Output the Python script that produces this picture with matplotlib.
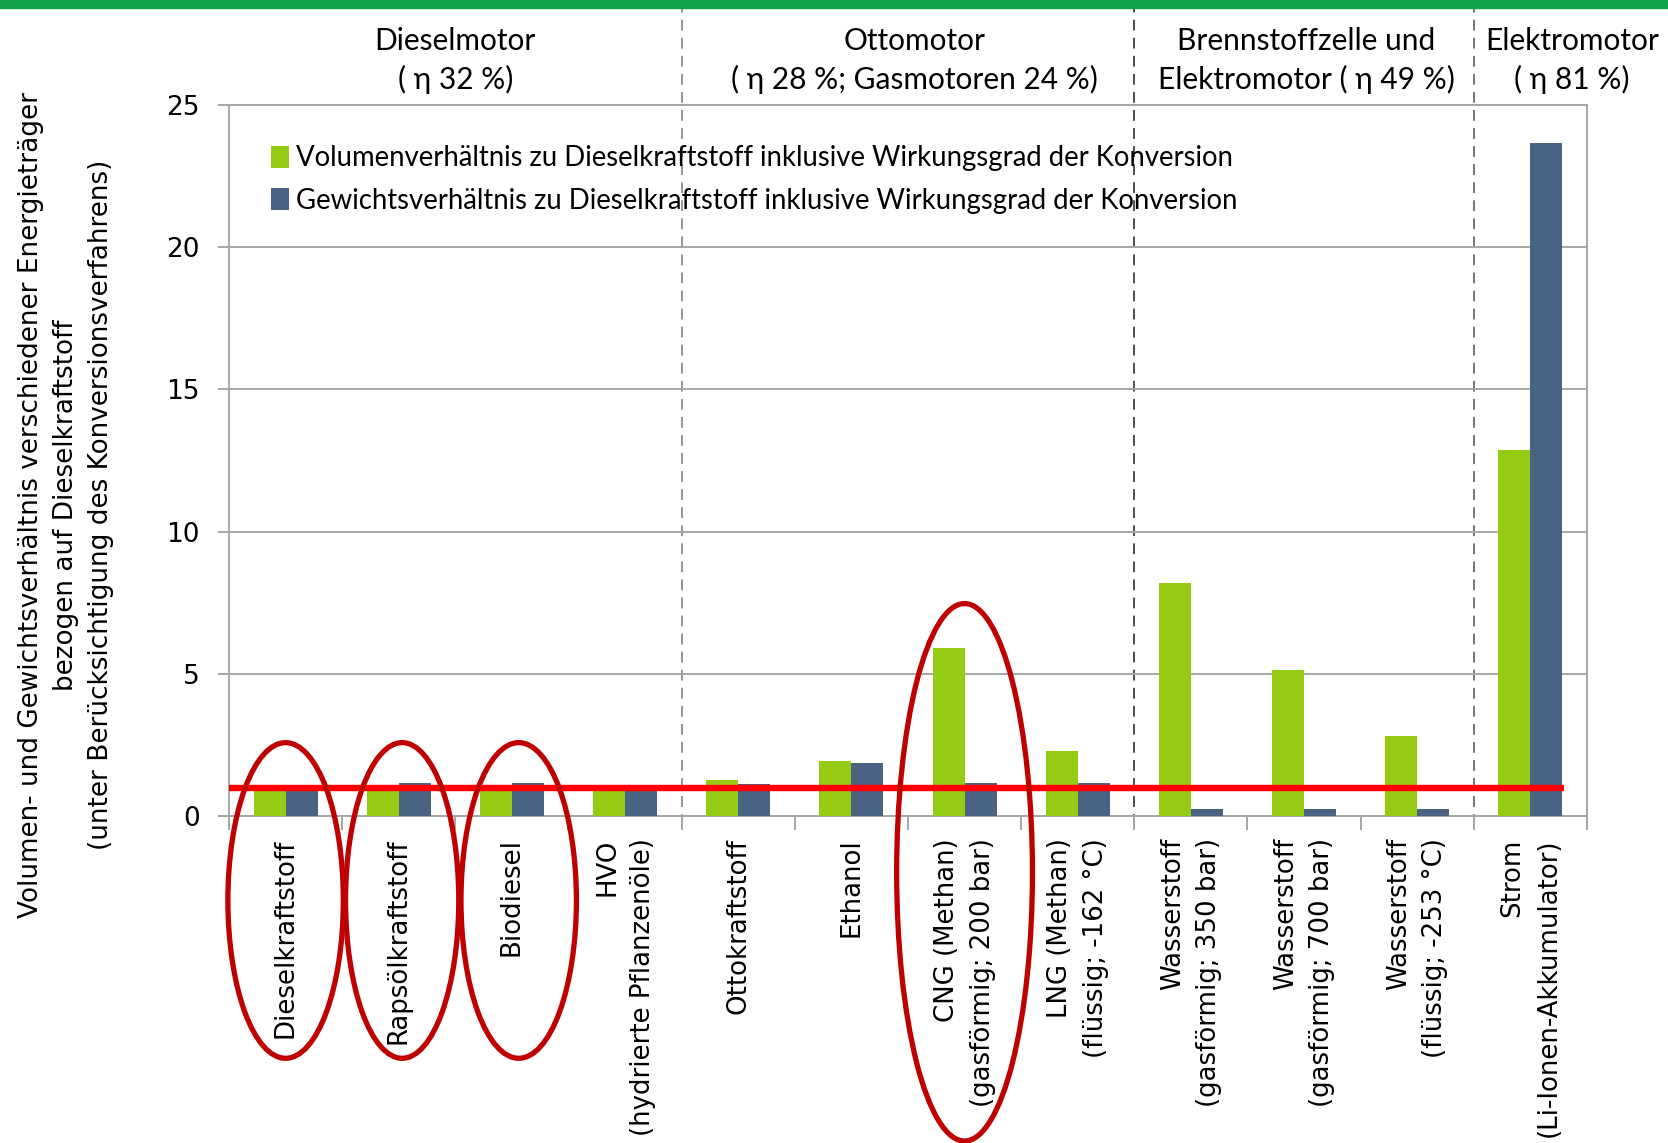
import numpy as np
import matplotlib.pyplot as plt
from matplotlib.patches import Ellipse, Rectangle
import matplotlib.transforms as mtransforms

# -------------------------------
# DATA
# -------------------------------
categories = [
    "Dieselkraftstoff", "Rapsölkraftstoff", "Biodiesel",
    "HVO\n(hydrierte Pflanzenöle)", "Ottokraftstoff", "Ethanol",
    "CNG (Methan)\n(gasförmig; 200 bar)", "LNG (Methan)\n(flüssig; -162 °C)",
    "Wasserstoff\n(gasförmig; 350 bar)", "Wasserstoff\n(gasförmig; 700 bar)",
    "Wasserstoff\n(flüssig; -253 °C)", "Strom\n(Li-Ionen-Akkumulator)",
]
volumen = [1.0, 1.0, 1.05, 0.97, 1.27, 1.95, 5.9, 2.28, 8.2, 5.15, 2.8, 12.87]
gewicht = [1.0, 1.16, 1.16, 0.96, 1.12, 1.87, 1.16, 1.16, 0.26, 0.26, 0.26, 23.65]

series_labels = [
    "Volumenverhältnis zu Dieselkraftstoff inklusive Wirkungsgrad der Konversion",
    "Gewichtsverhältnis zu Dieselkraftstoff inklusive Wirkungsgrad der Konversion",
]

# motor groups: (header text, header x position in category units)
group_headers = [
    ("Dieselmotor\n( η 32 %)", 1.5),
    ("Ottomotor\n( η 28 %; Gasmotoren 24 %)", 5.56),
    ("Brennstoffzelle und\nElektromotor ( η 49 %)", 9.02),
    ("Elektromotor\n( η 81 %)", 11.37),
]
group_bounds = [3.5, 7.5, 10.5]
reference_value = 1.0

# highlighted categories (index, x offset, width, y center, height)
highlights = [(0, 0.0, 1.02, -2.97, 11.1), (1, 0.03, 1.0, -2.97, 11.1),
              (2, 0.06, 1.02, -2.97, 11.1), (6, 0.0, 1.2, -1.98, 18.9)]

GREEN = "#95cb12"
BLUE = "#4b6382"
HEAD_FONT = "Lato"

# -------------------------------
# FIGURE
# -------------------------------
fig = plt.figure(figsize=(16.68, 11.43), dpi=100)
ax = fig.add_axes([0.1373, 0.2861, 0.8141, 0.6220])

x = np.arange(len(categories))
w = 0.283
ax.bar(x - w / 2, volumen, w, color=GREEN, label=series_labels[0], zorder=3)
ax.bar(x + w / 2, gewicht, w, color=BLUE, label=series_labels[1], zorder=3)

ax.set_xlim(-0.5, len(categories) - 0.5)
ax.set_ylim(0, 25)
ax.set_yticks([0, 5, 10, 15, 20, 25])
ax.yaxis.grid(True, color="#a6a6a6", linewidth=1.4, zorder=0)
for s in ax.spines.values():
    s.set_color("#a6a6a6")
    s.set_linewidth(1.4)

ax.set_xticks(np.arange(-0.5, len(categories), 1.0), minor=False)
ax.set_xticklabels([])
ax.set_xticks(x, minor=True)
ax.set_xticklabels(categories, minor=True, rotation=90, fontsize=18.7,
                   ha="center", va="top", multialignment="right", linespacing=1.5)
ax.tick_params(axis="x", which="major", length=10, color="#a6a6a6", width=1.4)
ax.tick_params(axis="x", which="minor", length=0, pad=16)
ax.tick_params(axis="y", length=8, color="#a6a6a6", width=1.4, labelsize=19, pad=13)

# reference line at 1
ax.plot([-0.5, 11.3], [reference_value, reference_value], color="#ff0000",
        linewidth=4.6, zorder=5, solid_capstyle="butt")

# group separators across the header area
blend = mtransforms.blended_transform_factory(ax.transData, fig.transFigure)
for xb, c in zip(group_bounds, ["#8c8c8c", "#404040", "#6a6a6a"]):
    ax.plot([xb, xb], [0.278, 0.992], transform=blend, color=c, linewidth=1.3,
            linestyle=(0, (6, 4)), clip_on=False, zorder=1)

for txt, xh in group_headers:
    ax.text(xh, 0.947, txt, transform=blend, ha="center", va="center",
            fontsize=21.5, family=HEAD_FONT, linespacing=1.4)

# red ellipses
for idx, dx, ew, yc, eh in highlights:
    ax.add_patch(Ellipse((idx + dx, yc), ew, eh, fill=False, edgecolor="#c00000",
                         linewidth=3.8, clip_on=False, zorder=6))

ax.legend(loc="upper left", bbox_to_anchor=(0.023, 0.959), frameon=False,
          prop={"family": HEAD_FONT, "size": 19.8}, handlelength=0.65,
          handleheight=0.85, handletextpad=0.25, labelspacing=0.6,
          borderaxespad=0)

fig.text(0.0396, 0.558,
         "Volumen- und Gewichtsverhältnis verschiedener Energieträger\n"
         "bezogen auf Dieselkraftstoff\n"
         "(unter Berücksichtigung des Konversionsverfahrens)",
         rotation=90, ha="center", va="center", multialignment="center",
         fontsize=18.9, linespacing=1.45)

# green band at the top
fig.patches.append(Rectangle((0, 1 - 8 / 1143), 1, 8 / 1143, transform=fig.transFigure,
                             color="#12a04b", zorder=0))

fig.savefig("out.png", dpi=100)
